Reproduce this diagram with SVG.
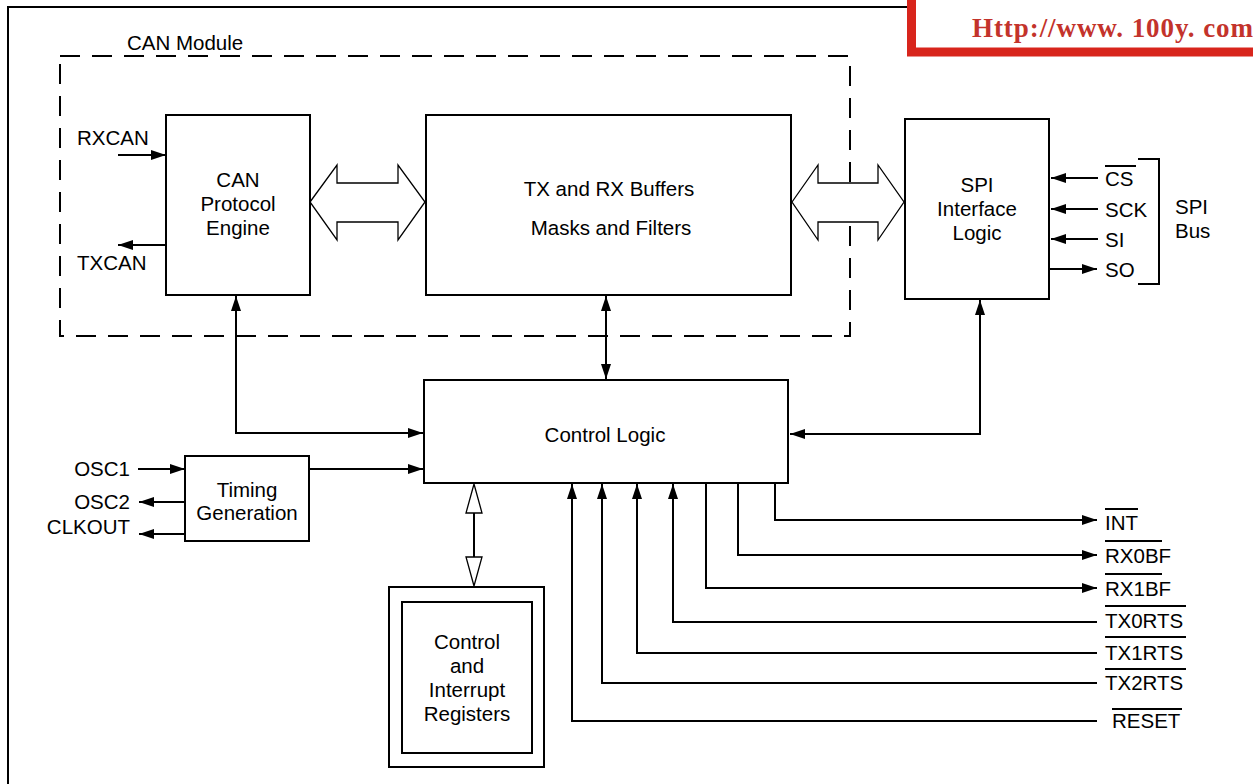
<svg xmlns="http://www.w3.org/2000/svg" width="1253" height="784" viewBox="0 0 1253 784">
<defs>
<style>
.box{fill:#fff;stroke:#000;stroke-width:2}
.ln{fill:none;stroke:#000;stroke-width:2}
.t{font-family:"Liberation Sans",Arial,sans-serif;font-size:20.5px;fill:#000}
.c{text-anchor:middle}
.r{text-anchor:end}
.hollow{fill:#fff;stroke:#000;stroke-width:1.3}
</style>
<marker id="ah" markerUnits="userSpaceOnUse" markerWidth="15" markerHeight="10" viewBox="0 0 15 10" refX="15" refY="5" orient="auto-start-reverse">
<path d="M0,0 L15,5 L0,10 z" fill="#000"/>
</marker>
</defs>
<rect width="1253" height="784" fill="#fff"/>
<path class="ln" d="M8,790 L8,7 L907,7"/>
<g id="watermark-box">
<rect x="911.5" y="-6" width="346" height="58" fill="#fff" stroke="#d8251c" stroke-width="9"/>
<text x="972" y="37" font-family="'Liberation Serif',serif" font-weight="bold" font-size="27" fill="#c3332b" textLength="281" lengthAdjust="spacing">Http://www. 100y. com</text>
</g>
<g id="can-module">
<rect x="60" y="56" width="790" height="280" fill="none" stroke="#000" stroke-width="2" stroke-dasharray="20 12"/>
<text class="t" x="127" y="50">CAN Module</text>
</g>
<g id="connectors">
<line class="ln" x1="118" y1="155" x2="166" y2="155" marker-end="url(#ah)"/>
<line class="ln" x1="166" y1="245" x2="118" y2="245" marker-end="url(#ah)"/>
<polygon class="hollow" points="310,202 337,165 337,183 398,183 398,165 425,202 398,240 398,222 337,222 337,240"/>
<polygon class="hollow" points="792,202 818,165 818,183 878,183 878,165 904,202 878,240 878,222 818,222 818,240"/>
<line class="ln" x1="1098" y1="178" x2="1051" y2="178" marker-end="url(#ah)"/>
<line class="ln" x1="1098" y1="209" x2="1051" y2="209" marker-end="url(#ah)"/>
<line class="ln" x1="1098" y1="239" x2="1051" y2="239" marker-end="url(#ah)"/>
<line class="ln" x1="1050" y1="269" x2="1097" y2="269" marker-end="url(#ah)"/>
<path class="ln" d="M1138,159 L1159,159 L1159,284 L1138,284"/>
<line class="ln" x1="606" y1="296" x2="606" y2="379" marker-start="url(#ah)" marker-end="url(#ah)"/>
<path class="ln" d="M236,296 L236,433 L423,433" marker-start="url(#ah)" marker-end="url(#ah)"/>
<path class="ln" d="M980,300 L980,434 L790,434" marker-start="url(#ah)" marker-end="url(#ah)"/>
<line class="ln" x1="138" y1="469" x2="185" y2="469" marker-end="url(#ah)"/>
<line class="ln" x1="185" y1="502" x2="139" y2="502" marker-end="url(#ah)"/>
<line class="ln" x1="185" y1="534" x2="139" y2="534" marker-end="url(#ah)"/>
<line class="ln" x1="309" y1="469" x2="423" y2="469" marker-end="url(#ah)"/>
<line class="ln" x1="474" y1="513" x2="474" y2="557"/>
<polygon class="hollow" points="474,484 466,513 482,513"/>
<polygon class="hollow" points="474,586 466,557 482,557"/>
<path class="ln" d="M775,484 L775,520 L1097,520" marker-end="url(#ah)"/>
<path class="ln" d="M738,484 L738,555 L1097,555" marker-end="url(#ah)"/>
<path class="ln" d="M706,484 L706,588 L1097,588" marker-end="url(#ah)"/>
<path class="ln" d="M1097,622 L673,622 L673,484" marker-end="url(#ah)"/>
<path class="ln" d="M1097,653 L637,653 L637,484" marker-end="url(#ah)"/>
<path class="ln" d="M1097,683 L602,683 L602,484" marker-end="url(#ah)"/>
<path class="ln" d="M1097,721 L572,721 L572,484" marker-end="url(#ah)"/>
</g>
<g id="can-engine">
<rect class="box" x="166" y="115" width="144" height="180"/>
<text class="t c" x="238" y="187">CAN</text>
<text class="t c" x="238" y="211">Protocol</text>
<text class="t c" x="238" y="235">Engine</text>
<text class="t" x="77" y="145">RXCAN</text>
<text class="t" x="77" y="270">TXCAN</text>
</g>
<g id="buffers">
<rect class="box" x="426" y="115" width="365" height="180"/>
<text class="t c" x="609" y="196">TX and RX Buffers</text>
<text class="t c" x="611" y="235">Masks and Filters</text>
</g>
<g id="spi-logic">
<rect class="box" x="905" y="119" width="144" height="180"/>
<text class="t c" x="977" y="192">SPI</text>
<text class="t c" x="977" y="216">Interface</text>
<text class="t c" x="977" y="240">Logic</text>
</g>
<g id="spi-signals">
<text class="t" x="1105" y="186">CS</text>
<line class="ln" x1="1105" y1="166" x2="1136" y2="166" stroke-width="1.5"/>
<text class="t" x="1105" y="217">SCK</text>
<text class="t" x="1105" y="247">SI</text>
<text class="t" x="1105" y="277">SO</text>
<text class="t" x="1175" y="214">SPI</text>
<text class="t" x="1175" y="238">Bus</text>
</g>
<g id="control-logic">
<rect class="box" x="424" y="380" width="364" height="103"/>
<text class="t c" x="605" y="442">Control Logic</text>
</g>
<g id="timing">
<rect class="box" x="185" y="456" width="124" height="85"/>
<text class="t c" x="247" y="497">Timing</text>
<text class="t c" x="247" y="520">Generation</text>
<text class="t r" x="130" y="476">OSC1</text>
<text class="t r" x="130" y="509">OSC2</text>
<text class="t r" x="130" y="534">CLKOUT</text>
</g>
<g id="registers">
<rect class="box" x="389" y="587" width="155" height="180"/>
<rect class="box" x="402" y="602" width="130" height="151"/>
<text class="t c" x="467" y="649">Control</text>
<text class="t c" x="467" y="673">and</text>
<text class="t c" x="467" y="697">Interrupt</text>
<text class="t c" x="467" y="721">Registers</text>
</g>
<g id="output-signals">
<text class="t" x="1105" y="530">INT</text>
<line class="ln" x1="1105" y1="509" x2="1138" y2="509" stroke-width="1.5"/>
<text class="t" x="1105" y="563">RX0BF</text>
<line class="ln" x1="1105" y1="541" x2="1162" y2="541" stroke-width="1.5"/>
<text class="t" x="1105" y="596">RX1BF</text>
<line class="ln" x1="1105" y1="574" x2="1162" y2="574" stroke-width="1.5"/>
<text class="t" x="1105" y="628">TX0RTS</text>
<line class="ln" x1="1105" y1="606" x2="1186" y2="606" stroke-width="1.5"/>
<text class="t" x="1105" y="660">TX1RTS</text>
<line class="ln" x1="1105" y1="637" x2="1186" y2="637" stroke-width="1.5"/>
<text class="t" x="1105" y="690">TX2RTS</text>
<line class="ln" x1="1105" y1="669" x2="1186" y2="669" stroke-width="1.5"/>
<text class="t" x="1112" y="728">RESET</text>
<line class="ln" x1="1112" y1="709" x2="1182" y2="709" stroke-width="1.5"/>
</g>
</svg>
